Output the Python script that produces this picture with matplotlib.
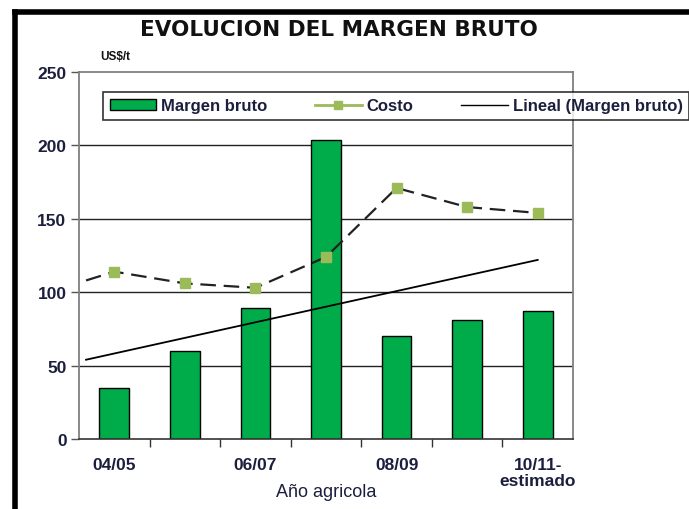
import numpy as np
import matplotlib
matplotlib.use("Agg")
import matplotlib.pyplot as plt
from matplotlib.patches import Patch
from matplotlib.lines import Line2D

# Datos
campanas = ["04/05", "05/06", "06/07", "07/08", "08/09", "09/10", "10/11-\nestimado"]
margen_bruto = [35, 60, 89, 204, 70, 81, 87]
costo = [114, 106, 103, 124, 171, 158, 154]
costo_inicio = 108          # tramo suavizado antes de la primera campana
tendencia_x = [-0.4, 6.0]
tendencia_y = [54, 122]

txt_color = "#1b1f3d"
verde_barra = "#00ab4a"
verde_costo = "#9bbb59"

plt.rcParams['font.family'] = ['Liberation Sans', 'DejaVu Sans']

fig = plt.figure(figsize=(6.89, 5.10), dpi=100)
ax = fig.add_axes([79 / 689, 1 - 440 / 510, (573 - 79) / 689, (440 - 73) / 510])

x = np.arange(len(campanas))

# grilla horizontal
for yv in [50, 100, 150, 200]:
    ax.axhline(yv, color="#222222", lw=1.0, zorder=0)

ax.bar(x, margen_bruto, width=0.42, color=verde_barra, edgecolor="black", lw=1.0, zorder=2)

# costo: linea discontinua negra con marcadores verdes
ax.plot(np.r_[-0.4, x], np.r_[costo_inicio, costo], color="#222222", lw=1.6,
        dashes=(7, 3.5), zorder=3)
ax.plot(x, costo, ls="none", marker="s", ms=7.5, color=verde_costo, zorder=4)

# tendencia lineal del margen bruto
ax.plot(tendencia_x, tendencia_y, color="black", lw=1.3, zorder=3)

ax.set_xlim(-0.5, 6.5)
ax.set_ylim(0, 250)
ax.set_yticks([0, 50, 100, 150, 200, 250])
ax.set_xticks(x[::2])
ax.set_xticklabels([campanas[i] for i in range(0, 7, 2)])
ax.set_xticks(np.arange(0.5, 6.5, 1), minor=True)

ax.tick_params(axis="y", length=6, width=1, color="#555555", pad=3,
               labelsize=12.5, labelcolor=txt_color)
ax.tick_params(axis="x", which="major", length=0, pad=13, labelsize=12.5, labelcolor=txt_color)
ax.tick_params(axis="x", which="minor", length=6, width=1, color="#333333")
for lbl in ax.get_yticklabels() + ax.get_xticklabels():
    lbl.set_fontweight("bold")
for lbl in ax.get_xticklabels():
    lbl.set_linespacing(1.1)
    lbl.set_verticalalignment("top")

for s in ["left", "top", "right"]:
    ax.spines[s].set_color("#808080")
    ax.spines[s].set_linewidth(1.3)
ax.spines["bottom"].set_color("#333333")
ax.spines["bottom"].set_linewidth(1.2)

ax.xaxis.set_label_coords(0.49, -0.142)
ax.set_xlabel("Año agricola", fontsize=13, color=txt_color, va="center")

fig.text(0.492, 1 - 30 / 510, "EVOLUCION DEL MARGEN BRUTO", ha="center", va="center",
         fontsize=15.5, fontweight="bold", color="#111111", family="DejaVu Sans")
fig.text(100 / 689, 1 - 57 / 510, "US$/t", ha="left", va="center",
         fontsize=8.5, fontweight="bold", color="#111111")

handles = [Patch(facecolor=verde_barra, edgecolor="black", lw=1.0),
           Line2D([], [], color=verde_costo, lw=2, marker="s", ms=6),
           Line2D([], [], color="black", lw=1.0)]
labels = ["Margen bruto", "Costo", "Lineal (Margen bruto)"]
leg = fig.legend(handles, labels, ncol=3,
                 bbox_to_anchor=(103 / 689, 1 - 121 / 510),
                 loc="lower left", borderaxespad=0, frameon=True, fancybox=False,
                 edgecolor="black", fontsize=12, handlelength=2.8, handletextpad=0.3,
                 columnspacing=2.85, borderpad=0.4, handleheight=0.6)
leg.get_frame().set_linewidth(1.2)
for t in leg.get_texts():
    t.set_color(txt_color)
    t.set_fontweight("bold")

# marco negro del recuadro
fig.add_artist(Line2D([14.5 / 689, 14.5 / 689], [0, 1 - 12.5 / 510], color="black", lw=4,
                      transform=fig.transFigure, solid_capstyle="projecting"))
fig.add_artist(Line2D([14.5 / 689, 1], [1 - 12.5 / 510, 1 - 12.5 / 510], color="black", lw=4,
                      transform=fig.transFigure, solid_capstyle="projecting"))

fig.savefig("out.png", dpi=100)
